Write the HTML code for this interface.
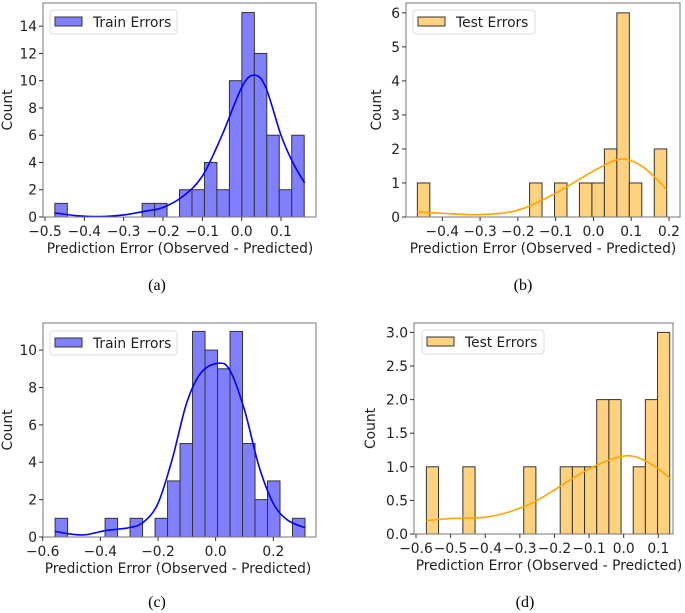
<!DOCTYPE html>
<html><head><meta charset="utf-8"><style>
html,body{margin:0;padding:0;background:#fff;}
svg{display:block;font-family:"DejaVu Sans","Liberation Sans",sans-serif;}
</style></head><body>
<svg id="fig" width="685" height="613" viewBox="0 0 685 613" xmlns="http://www.w3.org/2000/svg"></svg>
<script>
// ---- data ----
const aCounts=[1,0,0,0,0,0,0,1,1,0,2,2,4,2,10,15,12,6,2,6];
const aKdeX=[-0.475,-0.42,-0.36,-0.3,-0.25,-0.2,-0.15,-0.1,-0.05,0,0.03,0.06,0.1,0.13,0.16];
const aKdeY=[0.3,0.1,0.03,0.15,0.4,0.7,1.5,3,6,9.5,10.4,9.6,6,4,2.5];
const aYTicks=[0,2,4,6,8,10,12,14];
const aXTicks=[-0.5,-0.4,-0.3,-0.2,-0.1,0.0,0.1];

const bCounts=[1,0,0,0,0,0,0,0,0,1,0,1,0,1,1,2,6,1,0,2];
const bKdeX=[-0.466,-0.4,-0.3,-0.2,-0.1,0,0.07,0.12,0.16,0.194];
const bKdeY=[0.15,0.11,0.07,0.2,0.7,1.35,1.7,1.55,1.2,0.8];
const bYTicks=[0,1,2,3,4,5,6];
const bXTicks=[-0.4,-0.3,-0.2,-0.1,0.0,0.1,0.2];

const cCounts=[1,0,0,0,1,0,1,0,1,3,5,11,10,9,11,5,2,3,0,1];
const cKdeX=[-0.557,-0.5,-0.45,-0.38,-0.3,-0.25,-0.2,-0.15,-0.1,-0.05,0.01,0.05,0.1,0.15,0.2,0.25,0.31];
const cKdeY=[0.3,0.15,0.12,0.35,0.5,0.8,1.8,4.2,7.2,8.8,9.3,8.9,6.8,3.8,1.8,0.9,0.5];
const cYTicks=[0,2,4,6,8,10];
const cXTicks=[-0.6,-0.4,-0.2,0.0,0.2];

const dCounts=[1,0,0,1,0,0,0,0,1,0,0,1,1,1,2,2,0,1,2,3];
const dKdeX=[-0.57,-0.5,-0.4,-0.33,-0.25,-0.15,-0.08,0,0.05,0.1,0.135];
const dKdeY=[0.2,0.23,0.25,0.33,0.5,0.82,1.02,1.16,1.12,0.97,0.82];
const dYTicks=[0,0.5,1.0,1.5,2.0,2.5,3.0];
const dXTicks=[-0.6,-0.5,-0.4,-0.3,-0.2,-0.1,0.0,0.1];

const NS="http://www.w3.org/2000/svg";
const svg=document.getElementById('fig');
const FS=13.8;
function mk(tag,attrs,parent){const e=document.createElementNS(NS,tag);for(const k in attrs)e.setAttribute(k,attrs[k]);(parent||svg).appendChild(e);return e;}
function fmt(v,dec){let s=v.toFixed(dec);if(Math.abs(v)<1e-9)s=(0).toFixed(dec);return s.replace('-','\u2212');}

function panel(cfg){
  const g=mk('g',{});
  
  
  const X=v=>cfg.pa+(v-cfg.va)/(cfg.vb-cfg.va)*(cfg.pb-cfg.pa);
  const Y=v=>cfg.B-(v-cfg.y0)/(cfg.y1-cfg.y0)*(cfg.B-cfg.T);
  const n=cfg.counts.length,bw=(cfg.binHi-cfg.binLo)/n;
  cfg.counts.forEach((c,i)=>{
    if(c<=0)return;
    const r=mk('rect',{x:X(cfg.binLo+i*bw),y:Y(c),width:X(cfg.binLo+(i+1)*bw)-X(cfg.binLo+i*bw),height:Y(0)-Y(c),fill:cfg.fill,stroke:'#333',"stroke-width":1},g);
    
    
  });
  const pts=cfg.kx.map((x,i)=>[X(x),Y(cfg.ky[i])]);
  let d='M'+pts[0][0]+','+pts[0][1];
  for(let i=0;i<pts.length-1;i++){
    const p0=pts[Math.max(0,i-1)],p1=pts[i],p2=pts[i+1],p3=pts[Math.min(pts.length-1,i+2)];
    d+=' C'+(p1[0]+(p2[0]-p0[0])/6)+','+(p1[1]+(p2[1]-p0[1])/6)+' '+(p2[0]-(p3[0]-p1[0])/6)+','+(p2[1]-(p3[1]-p1[1])/6)+' '+p2[0]+','+p2[1];
  }
  const kp=mk('path',{d:d,fill:'none',stroke:cfg.line,"stroke-width":1.6},g);
  
  
  const fr=mk('rect',{x:cfg.L,y:cfg.T,width:cfg.R-cfg.L,height:cfg.B-cfg.T,fill:'none',stroke:'#777',"stroke-width":1},g);
  
  
  cfg.yt.forEach(v=>{
    mk('line',{x1:cfg.L-4,x2:cfg.L,y1:Y(v),y2:Y(v),stroke:'#333'},g);
    const t=mk('text',{x:cfg.L-6,y:Y(v)+5,"text-anchor":'end',"font-size":FS,fill:'#222'},g);
    t.textContent=fmt(v,cfg.ydec);
    
    
  });
  cfg.xt.forEach(v=>{
    mk('line',{x1:X(v),x2:X(v),y1:cfg.B,y2:cfg.B+4,stroke:'#333'},g);
    const t=mk('text',{x:X(v),y:cfg.B+19,"text-anchor":'middle',"font-size":FS,fill:'#222'},g);
    t.textContent=fmt(v,1);
    
    
  });
  const yl=mk('text',{x:cfg.ylx,y:(cfg.T+cfg.B)/2,"text-anchor":'middle',"font-size":FS,fill:'#222',transform:'rotate(-90 '+cfg.ylx+' '+((cfg.T+cfg.B)/2)+')'},g);
  yl.textContent='Count';
  
  
  const xl=mk('text',{x:cfg.xlx,y:cfg.B+36,"text-anchor":'middle',"font-size":FS,fill:'#222'},g);
  xl.textContent='Prediction Error (Observed - Predicted)';
  
  
  const lg=mk('g',{},g);
  
  
  mk('rect',{x:cfg.lx,y:cfg.ly,width:cfg.lw,height:24,rx:3,fill:'#fff',stroke:'#ddd'},lg);
  mk('rect',{x:cfg.lx+5,y:cfg.ly+7,width:27,height:9,fill:cfg.fill,stroke:'#333'},lg);
  const lt=mk('text',{x:cfg.lx+43,y:cfg.ly+17,"font-size":FS,fill:'#222'},lg);
  lt.textContent=cfg.label;
  const cp=mk('text',{x:cfg.capx,y:cfg.capy,"text-anchor":'middle',"font-size":16,fill:'#000',"font-family":'"Liberation Serif",serif'},g);
  cp.textContent=cfg.cap;
  
  
}

const blueFill='#8080ff',orangeFill='#ffd280';
panel({name:'panel-a-train',L:43,R:316,T:3,B:217,va:-0.5,vb:0.1,pa:45,pb:281,y0:0,y1:15.7,binLo:-0.475,binHi:0.159,
  counts:aCounts,kx:aKdeX,ky:aKdeY,yt:aYTicks,xt:aXTicks,ydec:0,fill:blueFill,line:'#0000ff',
  ylx:12,xlx:180,lx:50,ly:10,lw:127,label:'Train Errors',cap:'(a)',capx:157,capy:290});
panel({name:'panel-b-test',L:406,R:680,T:3,B:217,va:-0.4,vb:0.2,pa:442.3,pb:669,y0:0,y1:6.29,binLo:-0.466,binHi:0.194,
  counts:bCounts,kx:bKdeX,ky:bKdeY,yt:bYTicks,xt:bXTicks,ydec:0,fill:orangeFill,line:'#ffa500',
  ylx:381,xlx:543,lx:413,ly:10,lw:122,label:'Test Errors',cap:'(b)',capx:523,capy:290});
panel({name:'panel-c-train',L:43,R:316,T:323,B:537,va:-0.6,vb:0.2,pa:42.7,pb:273.3,y0:0,y1:11.45,binLo:-0.557,binHi:0.31,
  counts:cCounts,kx:cKdeX,ky:cKdeY,yt:cYTicks,xt:cXTicks,ydec:0,fill:blueFill,line:'#0000ff',
  ylx:12,xlx:178,lx:50,ly:331,lw:127,label:'Train Errors',cap:'(c)',capx:157,capy:607});
panel({name:'panel-d-test',L:414,R:673,T:323,B:534,va:-0.6,vb:0.1,pa:416,pb:658.3,y0:0,y1:3.14,binLo:-0.57,binHi:0.133,
  counts:dCounts,kx:dKdeX,ky:dKdeY,yt:dYTicks,xt:dXTicks,ydec:1,fill:orangeFill,line:'#ffa500',
  ylx:375,xlx:549,lx:422,ly:330,lw:122,label:'Test Errors',cap:'(d)',capx:525,capy:607});
</script>
</body></html>
